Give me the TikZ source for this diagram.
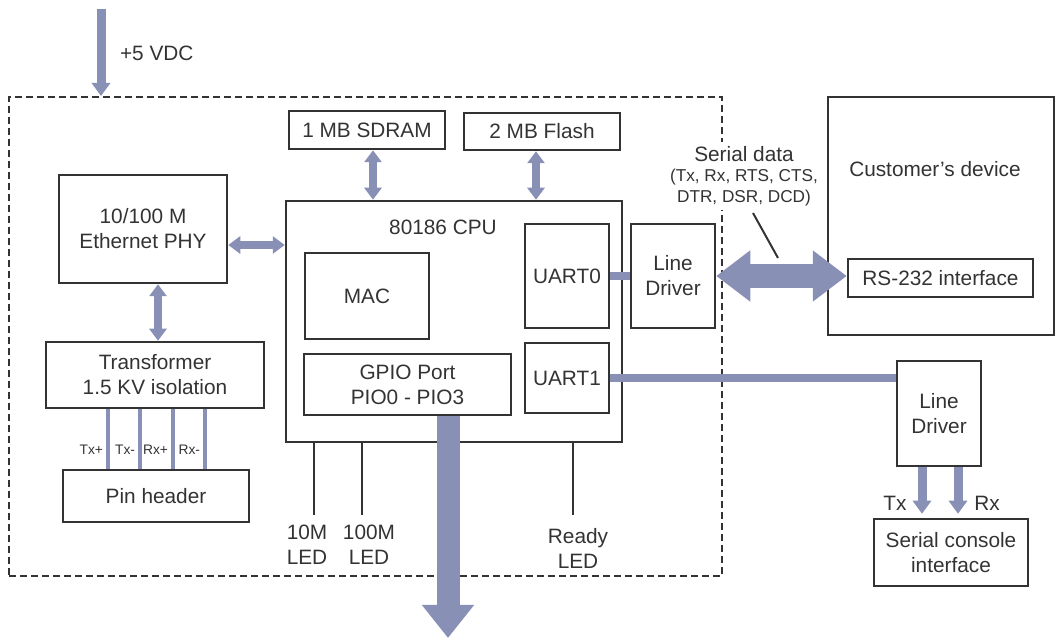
\documentclass[tikz,border=0pt]{standalone}
\usepackage{fontspec}
\setmainfont{Liberation Sans}
\usetikzlibrary{arrows.meta}
\definecolor{busblue}{RGB}{136,144,181}
\definecolor{inkgray}{RGB}{51,51,51}

\begin{document}
\begin{tikzpicture}[x=0.5pt,y=-0.5pt,
  every node/.style={text=inkgray,font=\fontsize{10.4}{12.5}\selectfont},
  box/.style={draw=inkgray,line width=1.25pt,align=center,inner sep=0pt},
  tiny/.style={font=\fontsize{6.9}{8}\selectfont},
  small/.style={font=\fontsize{8.6}{10.5}\selectfont},
  board/.style={draw=inkgray,line width=1pt,dash pattern=on 3.5pt off 2pt,inner sep=0pt},
  pwr/.style={busblue,line width=4.5pt,-{Triangle[width=9pt,length=6.5pt]}},
  dbl/.style={busblue,line width=4pt,{Triangle[width=8.5pt,length=6pt]}-{Triangle[width=8.5pt,length=6pt]}},
  fatdbl/.style={busblue,line width=12pt,{Triangle[width=24.5pt,length=17pt]}-{Triangle[width=24.5pt,length=17pt]}},
  fatarr/.style={busblue,line width=11.5pt,-{Triangle[width=25pt,length=16.5pt]}},
  bar/.style={busblue,line width=4pt},
  wire/.style={busblue,line width=2pt},
  led/.style={inkgray,line width=1pt}]
\useasboundingbox (0,0) rectangle (1057,641);

\node[board,minimum width=356.5pt,minimum height=239.5pt] (board) at (365.5,336.5) {};

\node[box,minimum width=78pt,minimum height=19pt] (sdram) at (367,130) {1 MB SDRAM};
\node[box,minimum width=78pt,minimum height=18.5pt] (flash) at (542,131.5) {2 MB Flash};
\node[box,minimum width=168pt,minimum height=120.5pt] (cpu) at (454,321.5) {};
\node (cpulbl) at (443,227) {80186 CPU};
\node[box,minimum width=42pt,minimum height=52pt] (uart0) at (567,276) {UART0};
\node[box,minimum width=62pt,minimum height=43pt] (mac) at (367,296) {MAC};
\node[box,minimum width=103.5pt,minimum height=30.5pt] (gpio) at (407.5,384.5) {GPIO Port\\PIO0 - PIO3};
\node[box,minimum width=42pt,minimum height=35pt] (uart1) at (567,378) {UART1};
\node[box,minimum width=84pt,minimum height=54pt] (phy) at (143,229) {10/100 M\\Ethernet PHY};
\node[box,minimum width=109pt,minimum height=33pt] (xfmr) at (155,375) {Transformer\\1.5 KV isolation};
\node[box,minimum width=93pt,minimum height=26pt] (pins) at (156,496) {Pin header};
\node[box,minimum width=42pt,minimum height=52pt] (ld1) at (673,276) {Line\\Driver};
\node[box,minimum width=113pt,minimum height=119pt] (cust) at (941,216) {};
\node (custlbl) at (935,169) {Customer’s device};
\node[box,minimum width=92.5pt,minimum height=19pt] (rs232) at (940.5,278) {RS-232 interface};
\node[box,minimum width=42pt,minimum height=52.5pt] (ld2) at (939,413.5) {Line\\Driver};
\node[box,minimum width=77pt,minimum height=33.5pt] (console) at (951,552.5) {Serial console\\interface};

\coordinate (pwrin) at (101,9);
\draw[pwr] (pwrin) -- (pwrin |- board.north);
\node[anchor=west] (pwrlbl) at (113,53) {+5 VDC};

\draw[dbl] ([xshift=3pt]sdram.south) -- ([xshift=3pt]sdram.south |- cpu.north);
\draw[dbl] ([xshift=-3pt]flash.south) -- ([xshift=-3pt]flash.south |- cpu.north);
\draw[dbl] ([yshift=-8pt]phy.east) -- ([yshift=-8pt]phy.east -| cpu.west);
\draw[dbl] ([xshift=7.5pt]phy.south) -- ([xshift=7.5pt]phy.south |- xfmr.north);

\foreach \px/\lbl in {108/Tx+,140/Tx-,173/Rx+,205/Rx-}
  \draw[wire] (xfmr.south -| \px,0) -- node[tiny,pos=0.68,left,inner sep=1.5pt] {\lbl} (pins.north -| \px,0);

\draw[bar] (uart0.east) -- (ld1.west);
\draw[fatdbl] (ld1.east) -- (ld1.east -| rs232.west);

\node[fill=white,inner sep=2pt] (sdata) at (744,154) {Serial data};
\node[small,align=center,fill=white,inner sep=2pt] (sdsig) at (744,187.5) {(Tx, Rx, RTS, CTS,\\DTR, DSR, DCD)};
\coordinate (sdtop) at (753,213);
\coordinate (sdbot) at (778,258);
\draw[led] (sdtop) -- (sdbot);

\draw[bar] (uart1.east) -- (uart1.east -| ld2.west);
\draw[pwr,shorten >=2pt] ([xshift=-8.5pt]ld2.south) -- ([xshift=-8.5pt]ld2.south |- console.north);
\draw[pwr,shorten >=2pt] ([xshift=9.5pt]ld2.south) -- ([xshift=9.5pt]ld2.south |- console.north);
\node (txl) at (895,503) {Tx};
\node (rxl) at (987,503) {Rx};

\coordinate (gpioout) at (448,638);
\draw[fatarr] (gpio.south -| gpioout) -- (gpioout);

\coordinate (led10) at (314,515);
\coordinate (led100) at (362,515);
\coordinate (ledrdy) at (573,515);
\draw[led] (cpu.south -| led10) -- (led10);
\draw[led] (cpu.south -| led100) -- (led100);
\draw[led] (cpu.south -| ledrdy) -- (ledrdy);
\node[align=center] (l10) at (307,545) {10M\\LED};
\node[align=center] (l100) at (369,545) {100M\\LED};
\node[align=center] (lrdy) at (578,548) {Ready\\LED};
\end{tikzpicture}
\end{document}
